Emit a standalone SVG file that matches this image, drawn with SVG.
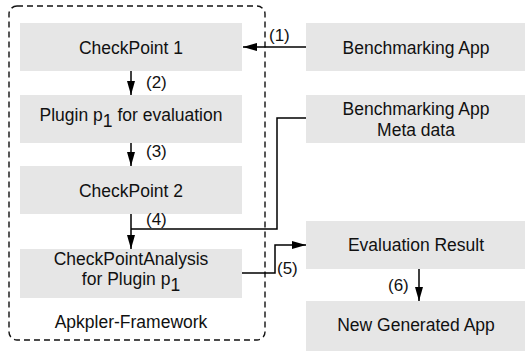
<svg xmlns="http://www.w3.org/2000/svg" width="525" height="351" viewBox="0 0 525 351">
<style>
.box{fill:#e6e6e6;stroke:none}
.t{font-family:"Liberation Sans",Arial,sans-serif;font-size:17.5px;fill:#111;text-anchor:middle}
.lbl{font-family:"Liberation Sans",Arial,sans-serif;font-size:17px;fill:#111}
.c{fill:none;stroke:#000;stroke-width:1.5}
.frame{fill:none;stroke:#111;stroke-width:1.4;stroke-dasharray:6 4}
</style>
<defs>
<marker id="ah" markerUnits="userSpaceOnUse" markerWidth="15" markerHeight="10" refX="14" refY="4" orient="auto">
<path d="M0,0 L14,4 L0,8 z" fill="#000"/>
</marker>
</defs>
<rect width="525" height="351" fill="#fff"/>
<g id="framework">
<rect class="frame" x="9" y="6" width="256" height="334" rx="8"/>
<text class="t" x="131" y="328">Apkpler-Framework</text>
</g>
<g id="checkpoint1">
<rect class="box" x="20" y="23" width="222" height="48"/>
<text class="t" x="131" y="54">CheckPoint 1</text>
</g>
<g id="plugin">
<rect class="box" x="20" y="95" width="222" height="48"/>
<text class="t" x="131" y="121">Plugin p<tspan dy="6">1</tspan><tspan dy="-6"> for evaluation</tspan></text>
</g>
<g id="checkpoint2">
<rect class="box" x="20" y="166" width="222" height="48"/>
<text class="t" x="131" y="197">CheckPoint 2</text>
</g>
<g id="analysis">
<rect class="box" x="20" y="249" width="222" height="49"/>
<text class="t" x="131" y="265">CheckPointAnalysis</text>
<text class="t" x="131" y="285">for Plugin p<tspan dy="6">1</tspan></text>
</g>
<g id="benchmarking-app">
<rect class="box" x="306" y="23" width="219" height="48"/>
<text class="t" x="416" y="54">Benchmarking App</text>
</g>
<g id="meta-data">
<rect class="box" x="306" y="95" width="219" height="48"/>
<text class="t" x="416" y="115">Benchmarking App</text>
<text class="t" x="416" y="136">Meta data</text>
</g>
<g id="evaluation-result">
<rect class="box" x="306" y="221" width="219" height="48"/>
<text class="t" x="416" y="251">Evaluation Result</text>
</g>
<g id="new-app">
<rect class="box" x="306" y="301" width="219" height="50"/>
<text class="t" x="416" y="331">New Generated App</text>
</g>
<g id="connectors">
<path class="c" d="M306,47 H243" marker-end="url(#ah)"/>
<path class="c" d="M131,71 V95" marker-end="url(#ah)"/>
<path class="c" d="M131,143 V166" marker-end="url(#ah)"/>
<path class="c" d="M131,214 V249" marker-end="url(#ah)"/>
<path class="c" d="M306,118 H277 V229 H131"/>
<path class="c" d="M242,273 H275 V245 H306" marker-end="url(#ah)"/>
<path class="c" d="M419,269 V301" marker-end="url(#ah)"/>
<text class="lbl" x="269" y="41">(1)</text>
<text class="lbl" x="146" y="88">(2)</text>
<text class="lbl" x="146" y="157">(3)</text>
<text class="lbl" x="146" y="225">(4)</text>
<text class="lbl" x="277" y="274">(5)</text>
<text class="lbl" x="388" y="291">(6)</text>
</g>
</svg>
